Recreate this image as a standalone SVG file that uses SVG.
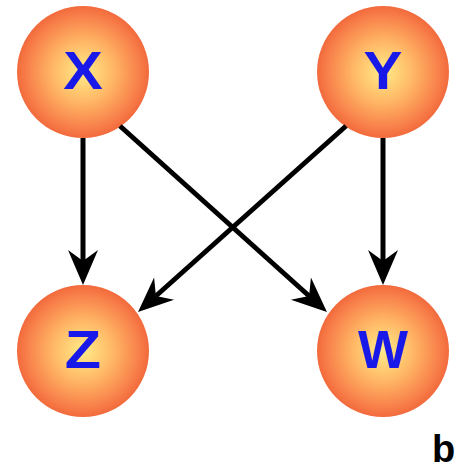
<svg xmlns="http://www.w3.org/2000/svg" width="460" height="472" viewBox="0 0 460 472">
  <defs>
    <radialGradient id="ball" cx="50%" cy="50%" r="50%">
      <stop offset="0" stop-color="#ffec88"/>
      <stop offset="0.45" stop-color="#ffb866"/>
      <stop offset="0.85" stop-color="#f8804a"/>
      <stop offset="1" stop-color="#f26a3c"/>
    </radialGradient>
    <marker id="arrow" markerUnits="userSpaceOnUse" markerWidth="60" markerHeight="40" viewBox="-15 -20 45 40" refX="0" refY="0" orient="auto" overflow="visible">
      <path d="M24,0 L-11,-15 L0,0 L-11,15 Z" fill="#000"/>
    </marker>
  </defs>
  <style>
    .node circle { fill: url(#ball); }
    .node text { font-family: "Liberation Sans", Arial, sans-serif; font-weight: bold; font-size: 53px; fill: #1818e8; text-anchor: middle; }
    .edges line { stroke: #000; stroke-width: 5; marker-end: url(#arrow); }
  </style>
  <g id="node-X" class="node">
    <circle cx="83" cy="72" r="66"/>
    <text x="83" y="89" transform="translate(83 0) scale(1.12 1) translate(-83 0)">X</text>
  </g>
  <g id="node-Y" class="node">
    <circle cx="383" cy="72" r="66"/>
    <text x="383" y="89" transform="translate(383 0) scale(1.1 1) translate(-383 0)">Y</text>
  </g>
  <g id="node-Z" class="node">
    <circle cx="83" cy="351" r="66"/>
    <text x="83" y="368" transform="translate(83 0) scale(1.12 1) translate(-83 0)">Z</text>
  </g>
  <g id="node-W" class="node">
    <circle cx="383" cy="351" r="66"/>
    <text x="383" y="368">W</text>
  </g>
  <g id="edges" class="edges">
    <line x1="83" y1="138" x2="83" y2="261"/>
    <line x1="383" y1="138" x2="383" y2="261"/>
    <line x1="120" y1="126" x2="309.1" y2="296"/>
    <line x1="346" y1="126" x2="155.9" y2="296"/>
  </g>
  <text x="432" y="462" font-family="Liberation Sans, Arial, sans-serif" font-weight="bold" font-size="38" fill="#000">b</text>
</svg>
